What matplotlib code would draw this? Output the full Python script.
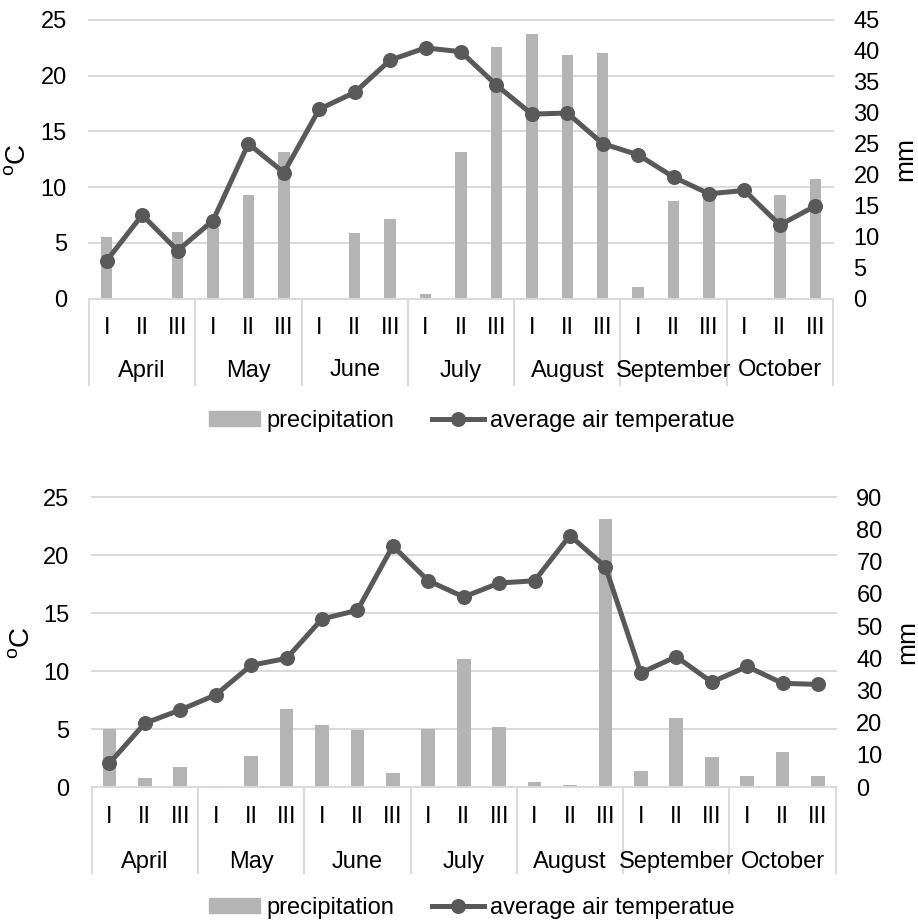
import numpy as np
import matplotlib
matplotlib.use('Agg')
import matplotlib.pyplot as plt
from matplotlib.lines import Line2D
from matplotlib.patches import Patch
import matplotlib.transforms as mtransforms

plt.rcParams['font.family'] = ['Liberation Sans', 'DejaVu Sans']

months = ['April', 'May', 'June', 'July', 'August', 'September', 'October']
decades = ['I', 'II', 'III']

# top panel
temp_top = [3.4, 7.5, 4.3, 7.0, 13.9, 11.3, 17.0, 18.5, 21.4, 22.5, 22.15,
            19.15, 16.55, 16.65, 13.9, 12.9, 10.9, 9.4, 9.7, 6.6, 8.3]
prec_top = [9.9, 0, 10.7, 11.4, 16.8, 23.6, 0, 10.6, 12.8, 0.7, 23.6,
            40.6, 42.7, 39.3, 39.6, 1.9, 15.7, 16.5, 0, 16.8, 19.3]
# bottom panel
temp_bot = [2.05, 5.5, 6.65, 7.95, 10.5, 11.1, 14.5, 15.25, 20.8, 17.8, 16.4,
            17.6, 17.8, 21.7, 19.0, 9.85, 11.25, 9.05, 10.4, 8.95, 8.85]
prec_bot = [18.1, 2.7, 6.2, 0.4, 9.7, 24.2, 19.3, 17.8, 4.3, 18.1, 39.7,
            18.5, 1.7, 0.7, 83.2, 5.0, 21.4, 9.35, 3.3, 10.9, 3.4]

labels_legend = ['precipitation', 'average air temperatue']

BAR = '#b4b4b4'
LINE = '#595959'
GRID = '#d9d9d9'
W, H = 918, 924
FS = 17

fig = plt.figure(figsize=(W / 100, H / 100), dpi=100)


def panel(left_px, top_px, bottom_px, temp, prec, mm_max, mm_step, bar_w,
          lab1, lab2, sep_len, legend_y, c_pos, mm_pos):
    width_px = 744
    rect = [left_px / W, 1 - bottom_px / H, width_px / W, (bottom_px - top_px) / H]
    ax = fig.add_axes(rect)
    ax2 = ax.twinx()
    ax.set_zorder(ax2.get_zorder() + 1)
    ax.patch.set_visible(False)
    n = len(temp)
    x = np.arange(n)

    ax2.bar(x, prec, width=bar_w, color=BAR, zorder=2)
    gtrans = mtransforms.blended_transform_factory(ax2.transAxes, ax.transData)
    for v in range(5, 26, 5):
        ax2.plot([0, 1], [v, v], transform=gtrans, color=GRID, lw=1.4,
                 zorder=1, clip_on=False)
    ax.plot(x, temp, color=LINE, lw=3.6, marker='o', ms=9.8, zorder=3,
            solid_joinstyle='round')

    for a in (ax, ax2):
        for s in a.spines.values():
            s.set_visible(False)
    ax.spines['bottom'].set_visible(True)
    ax.spines['bottom'].set_color(GRID)
    ax.spines['bottom'].set_linewidth(1.4)

    ax.set_xticks([])
    ax.set_yticks(range(0, 26, 5))
    ax2.set_yticks(range(0, mm_max + 1, mm_step))
    ax.tick_params(axis='y', length=0, pad=16, labelsize=FS, colors='black')
    ax2.tick_params(axis='y', length=0, pad=14.8, labelsize=FS, colors='black')

    trans_x = ax.get_xaxis_transform()

    def off(dy):
        return mtransforms.offset_copy(trans_x, fig=fig, x=0, y=-dy, units='dots')

    for i in range(n):
        ax.text(i, 0, decades[i % 3], transform=off(lab1), ha='center',
                va='baseline', fontsize=FS)
    for m, name in enumerate(months):
        ax.text(3 * m + 1, 0, name, transform=off(lab2), ha='center',
                va='baseline', fontsize=FS)
    hpx = bottom_px - top_px
    for k in range(len(months) + 1):
        xp = 3 * k - 0.5
        ax.plot([xp, xp], [0, -sep_len / hpx], transform=trans_x, color=GRID,
                lw=1.4, clip_on=False)

    ax.set_xlim(-0.5, n - 0.5)
    ax.set_ylim(0, 25)
    ax2.set_ylim(0, mm_max)

    fig.text(c_pos[0] / W, 1 - c_pos[1] / H, r'$\mathregular{^{o}C}$',
             rotation=90, ha='center', va='center', fontsize=20)
    fig.text(mm_pos[0] / W, 1 - mm_pos[1] / H, 'mm', rotation=90, ha='center',
             va='center', fontsize=19)

    handles = [Patch(color=BAR),
               Line2D([], [], color=LINE, lw=3.6, marker='o', ms=9.8)]
    fig.legend(handles=handles, labels=labels_legend, loc='center',
               bbox_to_anchor=(471.5 / W, 1 - legend_y / H), ncol=2,
               frameon=False, fontsize=FS, handlelength=2.2, handleheight=0.58,
               handletextpad=0.25, columnspacing=1.6, borderaxespad=0,
               borderpad=0)


panel(89, 20, 298.5, temp_top, prec_top, 45, 5, 0.32, 36, 78, 86, 421,
      (18.3, 160), (905, 159))
panel(91.7, 497.3, 787, temp_bot, prec_bot, 90, 10, 0.39, 36.3, 81, 86, 908,
      (21.7, 642.5), (907.5, 642.5))

fig.savefig('out.png', dpi=100)
